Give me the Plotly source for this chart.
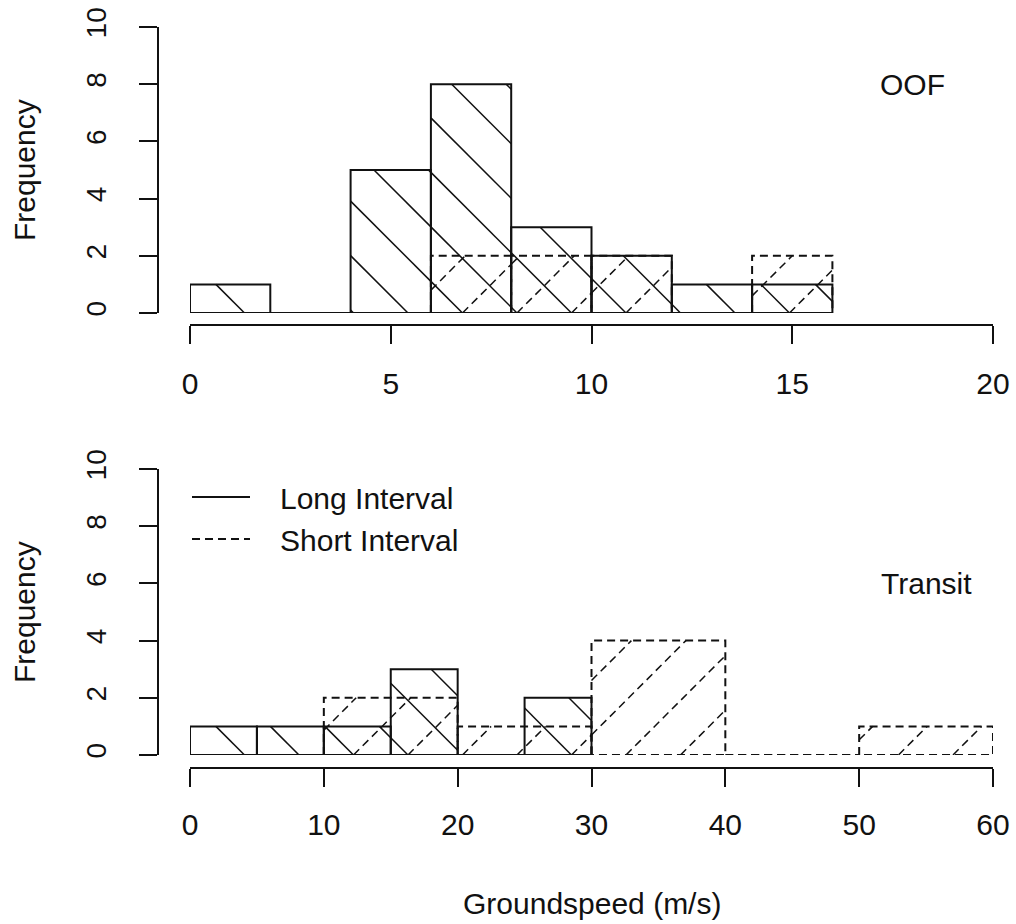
import plotly.graph_objects as go

# ---------------- data ----------------
oof_long_breaks = [0, 2, 4, 6, 8, 10, 12, 14, 16]
oof_long_counts = [1, 0, 5, 8, 3, 2, 1, 1]
oof_short_breaks = [6, 8, 10, 12, 14, 16]
oof_short_counts = [2, 2, 2, 0, 2]

transit_long_breaks = [0, 5, 10, 15, 20, 25, 30]
transit_long_counts = [1, 1, 1, 3, 0, 2]
transit_short_breaks = [0, 10, 20, 30, 40, 50, 60]
transit_short_counts = [0, 2, 1, 4, 0, 1]

oof_xticks = [0, 5, 10, 15, 20]
transit_xticks = [0, 10, 20, 30, 40, 50, 60]
freq_ticks = [0, 2, 4, 6, 8, 10]

# ---------------- layout constants (pixels) ----------------
W, H = 1016, 924
X0PX, X1PX = 190, 993          # x-range ends in pixels
TOP_Y0, TOP_Y10 = 313, 27      # top panel: y=0 / y=10 pixel rows
BOT_Y0, BOT_Y10 = 755, 469     # bottom panel
TOP_XAXIS_PX, BOT_XAXIS_PX = 325, 768
YAXIS_PX = 158
HATCH_SPACING = 54.5           # horizontal distance between hatch lines, px
FONT = "Liberation Sans, Arial, sans-serif"
INK = "#111111"
LW = 2.0
HLW = 1.5
DASH = "8px,5px"


def rect_path(breaks, counts):
    xs, ys = [], []
    for a, b, h in zip(breaks[:-1], breaks[1:], counts):
        xs += [a, a, b, b, a, None]
        ys += [0, h, h, 0, 0, None]
    return xs, ys


def hatch_path(breaks, counts, sx, sy, forward):
    """45-degree (in pixel space) hatch lines clipped to each bar."""
    xs, ys = [], []
    s = HATCH_SPACING
    for a, b, h in zip(breaks[:-1], breaks[1:], counts):
        if h <= 0:
            continue
        ua, ub, vh = a * sx, b * sx, h * sy
        if forward:   # u - v = c
            kmin = int((ua - vh) // s) - 1
            kmax = int(ub // s) + 1
        else:         # u + v = c
            kmin = int(ua // s) - 1
            kmax = int((ub + vh) // s) + 1
        for k in range(kmin, kmax + 1):
            c = k * s
            if forward:
                lo, hi = max(0.0, ua - c), min(vh, ub - c)
                if hi - lo < 0.5:
                    continue
                p0, p1 = (c + lo, lo), (c + hi, hi)
            else:
                lo, hi = max(0.0, c - ub), min(vh, c - ua)
                if hi - lo < 0.5:
                    continue
                p0, p1 = (c - lo, lo), (c - hi, hi)
            xs += [p0[0] / sx, p1[0] / sx, None]
            ys += [p0[1] / sy, p1[1] / sy, None]
    return xs, ys


fig = go.Figure()

panels = [
    dict(xa="x", ya="y", xr=20,
         long=(oof_long_breaks, oof_long_counts),
         short=(oof_short_breaks, oof_short_counts),
         y0=TOP_Y0, y10=TOP_Y10, legend=False),
    dict(xa="x2", ya="y2", xr=60,
         long=(transit_long_breaks, transit_long_counts),
         short=(transit_short_breaks, transit_short_counts),
         y0=BOT_Y0, y10=BOT_Y10, legend=True),
]

for p in panels:
    sx = (X1PX - X0PX) / p["xr"]
    sy = (p["y0"] - p["y10"]) / 10.0
    # long interval: solid outline, "\" hatch
    hx, hy = hatch_path(*p["long"], sx, sy, forward=False)
    fig.add_trace(go.Scatter(x=hx, y=hy, mode="lines", xaxis=p["xa"], yaxis=p["ya"],
                             line=dict(color=INK, width=HLW), showlegend=False,
                             hoverinfo="skip", cliponaxis=False))
    rx, ry = rect_path(*p["long"])
    fig.add_trace(go.Scatter(x=rx, y=ry, mode="lines", xaxis=p["xa"], yaxis=p["ya"],
                             line=dict(color=INK, width=LW), name="   Long Interval",
                             showlegend=p["legend"], cliponaxis=False))
    # short interval: dashed outline, dashed "/" hatch
    hx, hy = hatch_path(*p["short"], sx, sy, forward=True)
    fig.add_trace(go.Scatter(x=hx, y=hy, mode="lines", xaxis=p["xa"], yaxis=p["ya"],
                             line=dict(color=INK, width=HLW, dash=DASH), showlegend=False,
                             hoverinfo="skip", cliponaxis=False))
    rx, ry = rect_path(*p["short"])
    fig.add_trace(go.Scatter(x=rx, y=ry, mode="lines", xaxis=p["xa"], yaxis=p["ya"],
                             line=dict(color=INK, width=LW, dash=DASH), name="   Short Interval",
                             showlegend=p["legend"], cliponaxis=False))

axis_common = dict(showline=True, linecolor=INK, linewidth=LW, ticks="outside",
                   ticklen=18, tickwidth=LW, tickcolor=INK, showgrid=False,
                   zeroline=False, tickfont=dict(family=FONT, size=30, color=INK),
                   anchor="free", fixedrange=True, automargin=False)

xdom = [X0PX / W, X1PX / W]
ann_font = dict(family=FONT, size=30, color=INK)
fig.update_layout(
    width=W, height=H,
    margin=dict(l=0, r=0, t=0, b=0, pad=0, autoexpand=False),
    paper_bgcolor="white", plot_bgcolor="white",
    font=dict(family=FONT, size=30, color=INK),
    xaxis=dict(axis_common, domain=xdom, range=[0, 20], tickvals=oof_xticks,
               position=(H - TOP_XAXIS_PX) / H, ticklabelstandoff=14),
    yaxis=dict(axis_common, domain=[(H - TOP_Y0) / H, (H - TOP_Y10) / H], range=[0, 10],
               tickvals=freq_ticks, tickangle=-90, position=YAXIS_PX / W,
               ticklabelstandoff=22, tickfont=dict(family=FONT, size=28, color=INK)),
    xaxis2=dict(axis_common, domain=xdom, range=[0, 60], tickvals=transit_xticks,
                position=(H - BOT_XAXIS_PX) / H, ticklabelstandoff=12),
    yaxis2=dict(axis_common, domain=[(H - BOT_Y0) / H, (H - BOT_Y10) / H], range=[0, 10],
                tickvals=freq_ticks, tickangle=-90, position=YAXIS_PX / W,
                ticklabelstandoff=22, tickfont=dict(family=FONT, size=28, color=INK)),
    showlegend=True,
    legend=dict(x=187 / W, y=(H - 471) / H, xanchor="left", yanchor="top",
                bgcolor="rgba(0,0,0,0)", borderwidth=0, itemwidth=58,
                font=dict(family=FONT, size=30, color=INK), tracegroupgap=0),
    annotations=[
        dict(text="OOF", x=18, y=8, xref="x", yref="y", showarrow=False,
             xanchor="center", yanchor="middle", font=ann_font),
        dict(text="Transit", x=55, y=6, xref="x2", yref="y2", showarrow=False,
             xanchor="center", yanchor="middle", font=ann_font),
        dict(text="Frequency", x=24 / W, y=(H - (TOP_Y0 + TOP_Y10) / 2) / H,
             xref="paper", yref="paper", showarrow=False, textangle=-90,
             xanchor="center", yanchor="middle", font=ann_font),
        dict(text="Frequency", x=24 / W, y=(H - (BOT_Y0 + BOT_Y10) / 2) / H,
             xref="paper", yref="paper", showarrow=False, textangle=-90,
             xanchor="center", yanchor="middle", font=ann_font),
        dict(text="Groundspeed (m/s)", x=(X0PX + X1PX) / 2 / W, y=(H - 903) / H,
             xref="paper", yref="paper", showarrow=False,
             xanchor="center", yanchor="middle", font=ann_font),
    ],
)

fig.write_html("out.html")
